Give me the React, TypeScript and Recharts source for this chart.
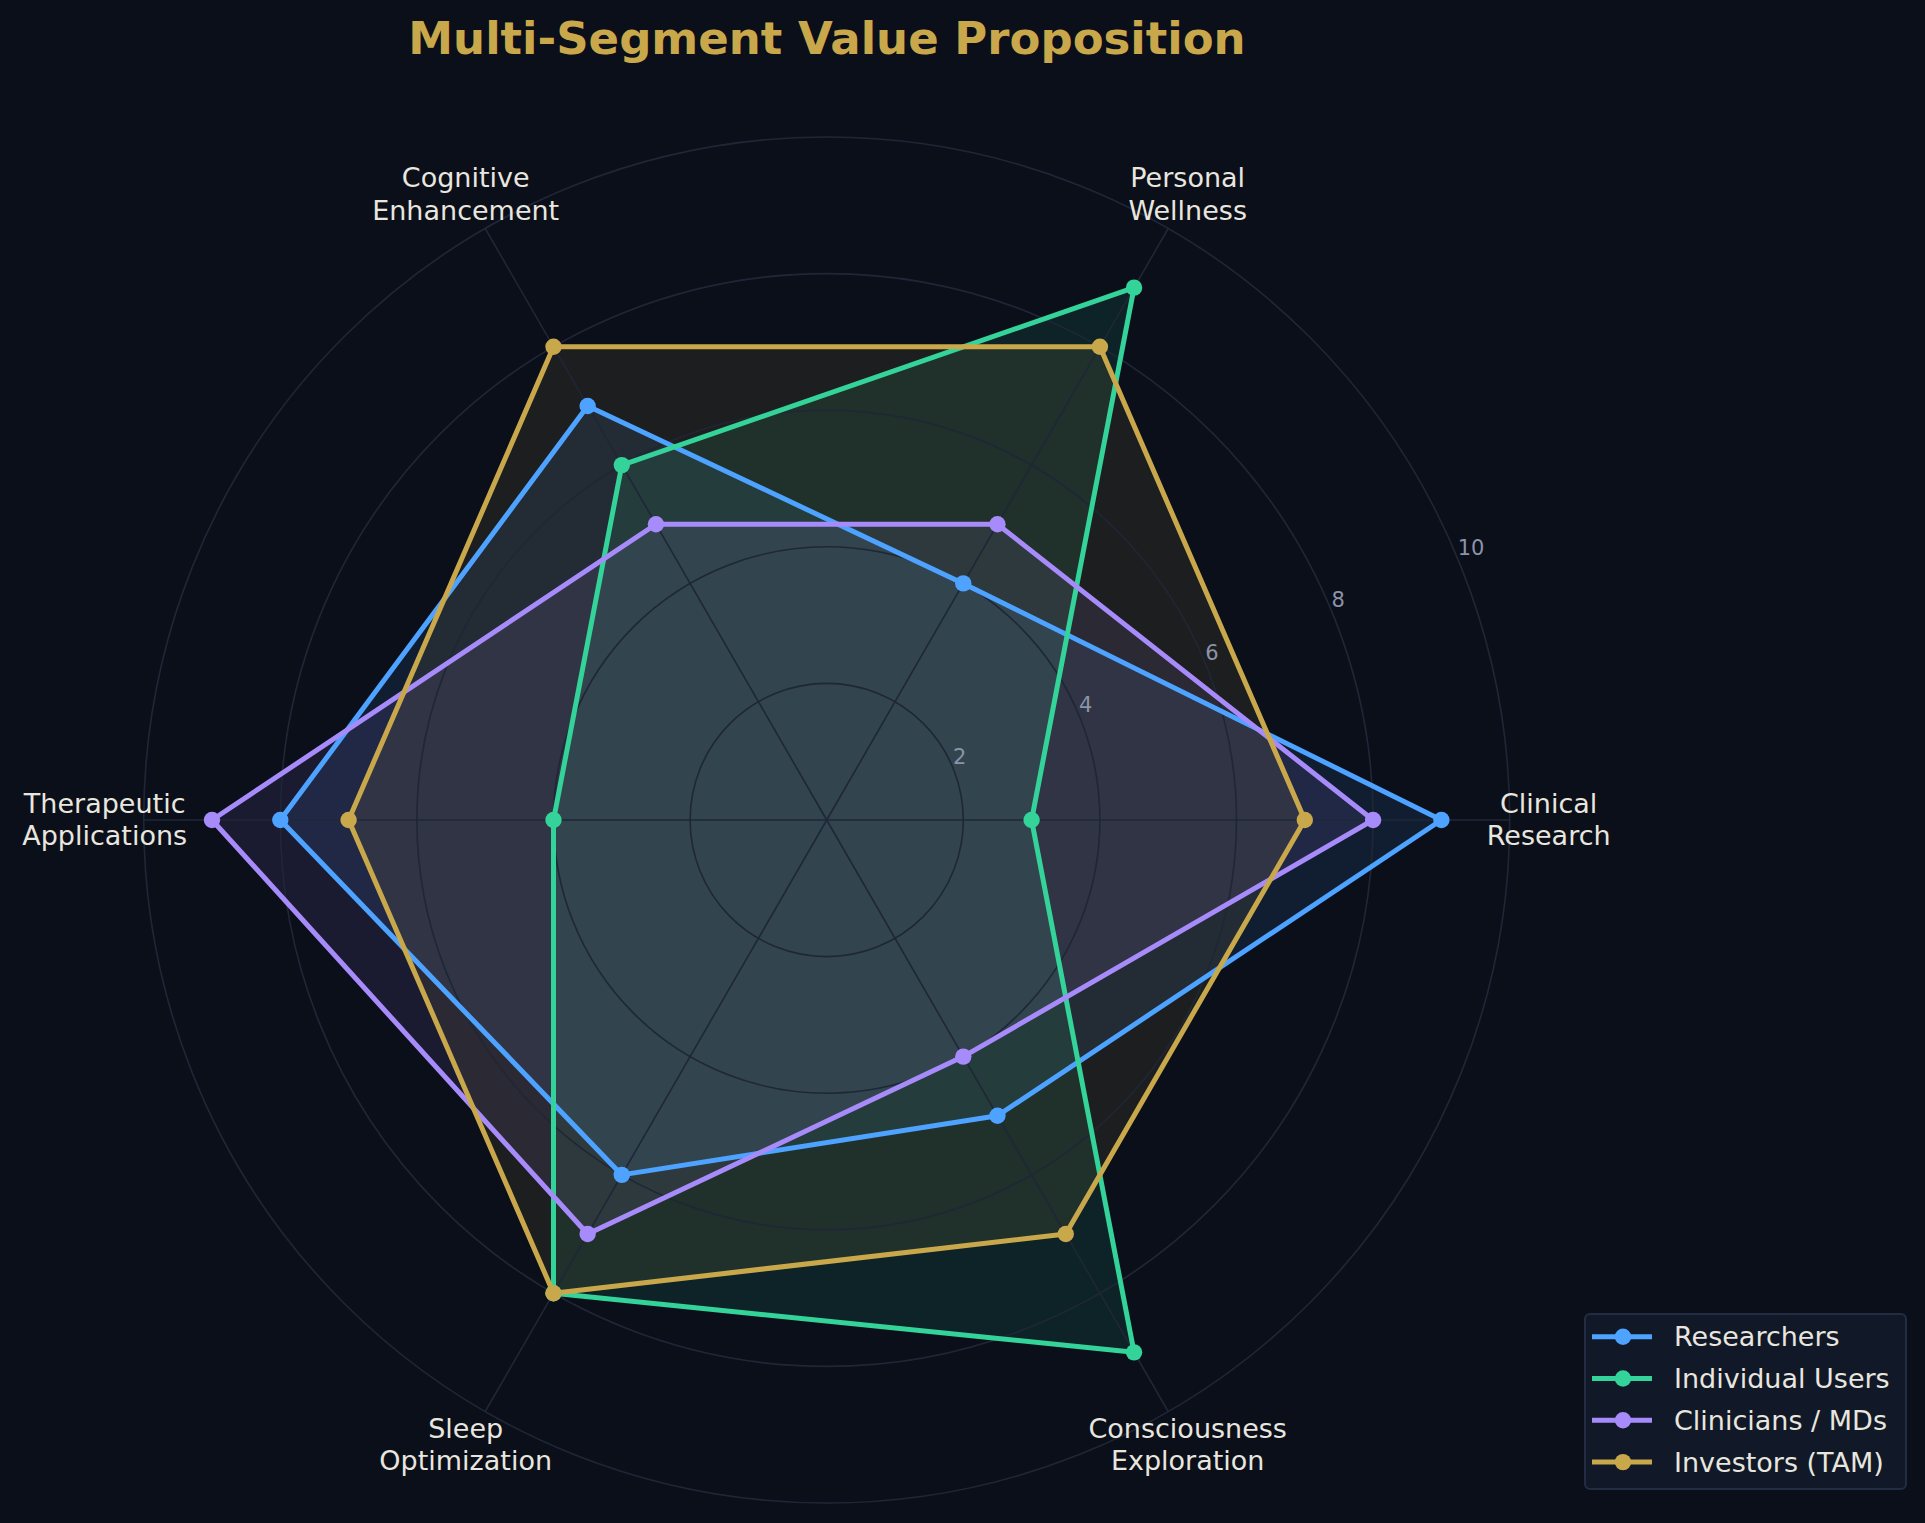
import React from 'react';
import { RadarChart, Radar, PolarGrid, PolarAngleAxis, PolarRadiusAxis } from 'recharts';

const categories = [
  'Clinical\nResearch',
  'Personal\nWellness',
  'Cognitive\nEnhancement',
  'Therapeutic\nApplications',
  'Sleep\nOptimization',
  'Consciousness\nExploration',
];
const researchers = [9, 4, 7, 8, 6, 5];
const individualUsers = [3, 9, 6, 4, 8, 9];
const clinicians = [8, 5, 5, 9, 7, 4];
const investors = [7, 8, 8, 7, 8, 7];
const seriesNames = ['Researchers', 'Individual Users', 'Clinicians / MDs', 'Investors (TAM)'];
const radiusTicks = [2, 4, 6, 8, 10];
const title = 'Multi-Segment Value Proposition';

const KEYS = ['researchers', 'individualUsers', 'clinicians', 'investors'];
const COLORS = ['#4da3ff', '#34d399', '#a78bfa', '#c9a84c'];
const BG = '#0b0f1a';
const GRID = '#1f2737';
const TEXT = '#e8e6df';
const FONT = '"DejaVu Sans", sans-serif';

const data = categories.map((c, i) => ({
  category: c,
  researchers: researchers[i],
  individualUsers: individualUsers[i],
  clinicians: clinicians[i],
  investors: investors[i],
}));

const W = 1925;
const H = 1523;
const CX = 826.7;
const CY = 820;
const R = 683;
const LABEL_R = 722;

const AngleTick = (props: any) => {
  const { payload } = props;
  const cx = typeof props.cx === 'number' ? props.cx : CX;
  const cy = typeof props.cy === 'number' ? props.cy : CY;
  const idx = categories.indexOf(String(payload.value));
  const deg = idx >= 0 ? (idx * 360) / categories.length : payload.coordinate;
  const a = (-deg * Math.PI) / 180;
  const x = cx + Math.cos(a) * LABEL_R;
  const y = cy + Math.sin(a) * LABEL_R;
  const lines = String(payload.value).split('\n');
  return (
    <text x={x} y={y} textAnchor="middle" fill={TEXT} fontSize={27} fontFamily={FONT}>
      {lines.map((l, i) => (
        <tspan key={i} x={x} y={y + (i === 0 ? -7.5 : 25)}>
          {l}
        </tspan>
      ))}
    </text>
  );
};

const RadiusTick = (props: any) => {
  const { x, y, payload } = props;
  if (!payload || payload.value === 0) return null;
  return (
    <text x={x} y={y - 3.5} textAnchor="start" fill="#8b93a7" fontSize={21} fontFamily={FONT}>
      {payload.value}
    </text>
  );
};

const makeDot = (color: string) => (p: any) => (
  <circle key={`d-${p.index}-${p.cx}`} cx={p.cx} cy={p.cy} r={8.2} fill={color} stroke="none" />
);

export default function App() {
  const gridProps: any = { zIndex: 150 };
  const fillProps: any = { zIndex: 100 };
  const lineProps: any = { zIndex: 300 };
  return (
    <div style={{ position: 'absolute', left: 0, top: 0, width: W, height: H, background: BG, overflow: 'hidden' }}>
      <RadarChart
        width={W}
        height={H}
        data={data}
        cx={CX}
        cy={CY}
        outerRadius={R}
        startAngle={-60}
        endAngle={300}
        margin={{ top: 0, right: 0, bottom: 0, left: 0 }}
      >
        {KEYS.map((k, i) => (
          <Radar
            key={`fill-${k}`}
            dataKey={k}
            name={seriesNames[i]}
            stroke="none"
            fill={COLORS[i]}
            fillOpacity={0.1}
            dot={false}
            legendType="none"
            isAnimationActive={false}
            {...fillProps}
          />
        ))}
        <PolarGrid gridType="circle" stroke={GRID} strokeWidth={1.6} {...gridProps} />
        <PolarAngleAxis dataKey="category" tick={<AngleTick />} axisLine={false} tickLine={false} />
        <PolarRadiusAxis
          angle={22.5}
          domain={[0, 10]}
          type="number"
          ticks={radiusTicks as any}
          tickCount={6}
          axisLine={false}
          tickLine={false}
          tick={<RadiusTick />}
        />
        {KEYS.map((k, i) => (
          <Radar
            key={`line-${k}`}
            dataKey={k}
            name={seriesNames[i]}
            stroke={COLORS[i]}
            strokeWidth={5}
            strokeLinejoin="round"
            fill="none"
            fillOpacity={0}
            dot={makeDot(COLORS[i])}
            isAnimationActive={false}
            {...lineProps}
          />
        ))}
      </RadarChart>
      <svg
        width={W}
        height={H}
        style={{ position: 'absolute', left: 0, top: 0, pointerEvents: 'none' }}
      >
        <text x={827} y={54} textAnchor="middle" fill="#c9a84c" fontSize={45} fontWeight="bold" fontFamily={FONT}>
          {title}
        </text>
        <rect x={1585} y={1314} width={321} height={175} rx={5} ry={5} fill="#111827" stroke="#222d44" strokeWidth={2} />
        {seriesNames.map((n, i) => {
          const y = 1336.7 + i * 41.8;
          return (
            <g key={n}>
              <line x1={1592} x2={1652} y1={y} y2={y} stroke={COLORS[i]} strokeWidth={5} />
              <circle cx={1623} cy={y} r={8.2} fill={COLORS[i]} />
              <text x={1674} y={y + 9.5} fill={TEXT} fontSize={27} fontFamily={FONT}>
                {n}
              </text>
            </g>
          );
        })}
      </svg>
    </div>
  );
}
